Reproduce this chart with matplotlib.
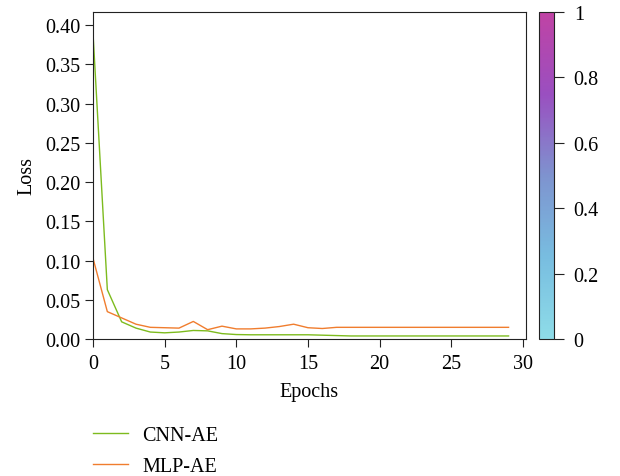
import matplotlib
matplotlib.use("Agg")
import matplotlib.pyplot as plt
import numpy as np
from matplotlib.colors import LinearSegmentedColormap
from matplotlib.cm import ScalarMappable
from matplotlib.colors import Normalize

plt.rcParams['font.family'] = ['Liberation Serif', 'DejaVu Serif']

# Training loss per epoch
epochs = list(range(30))
cnn_ae = [0.39, 0.063, 0.022, 0.014, 0.009, 0.008, 0.009, 0.011, 0.0105, 0.007,
          0.0058, 0.0055, 0.0055, 0.0055, 0.0055, 0.0055, 0.005, 0.0045, 0.004, 0.004,
          0.004, 0.004, 0.004, 0.004, 0.004, 0.004, 0.004, 0.004, 0.004, 0.004]
mlp_ae = [0.103, 0.035, 0.027, 0.019, 0.015, 0.0145, 0.014, 0.0225, 0.012, 0.0165,
          0.013, 0.013, 0.014, 0.016, 0.019, 0.0145, 0.0135, 0.015, 0.015, 0.015,
          0.015, 0.015, 0.015, 0.015, 0.015, 0.015, 0.015, 0.015, 0.015, 0.015]
series_names = ["CNN-AE", "MLP-AE"]
y_ticks = [0.0, 0.05, 0.10, 0.15, 0.20, 0.25, 0.30, 0.35, 0.40]
cbar_ticks = [0, 0.2, 0.4, 0.6, 0.8, 1]

fs = 14.5

fig = plt.figure(figsize=(6.2, 4.77), dpi=100)
ax = fig.add_axes([0.150, 0.287, 0.698, 0.686])
cax = fig.add_axes([0.869, 0.287, 0.025, 0.686])

ax.plot(epochs, cnn_ae, color="#7dbb1e", lw=1.0, label=series_names[0])
ax.plot(epochs, mlp_ae, color="#f07d2e", lw=1.0, label=series_names[1])

ax.set_xlim(0, 30.2)
ax.set_ylim(0, 0.417)
ax.set_xticks([0, 5, 10, 15, 20, 25, 30])
ax.set_yticks(y_ticks)
ax.set_yticklabels(["%.2f" % v for v in y_ticks])
ax.tick_params(direction="out", length=5.5, labelsize=fs, color="#222222")
ax.tick_params(axis="x", pad=5)
ax.set_xlabel("Epochs", fontsize=fs, labelpad=7)
ax.set_ylabel("Loss", fontsize=fs, labelpad=6)
for s in ax.spines.values():
    s.set_color("#222222")

cmap = LinearSegmentedColormap.from_list(
    "cb", [(0.0, "#8edce8"), (0.25, "#78bde0"), (0.5, "#7e93cf"),
           (0.75, "#9a4fc0"), (1.0, "#c043a4")])
cb = fig.colorbar(ScalarMappable(norm=Normalize(0, 1), cmap=cmap), cax=cax)
cb.set_ticks(cbar_ticks)
cb.set_ticklabels(["0", "0.2", "0.4", "0.6", "0.8", "1"])
cb.ax.tick_params(direction="out", length=7, pad=7, labelsize=fs, color="#222222")
cb.outline.set_edgecolor("#222222")

fig.legend(loc="upper left", bbox_to_anchor=(0.121, 0.142), frameon=False,
           fontsize=fs, handlelength=1.75, handletextpad=0.7, labelspacing=0.55)

fig.savefig("out.png", dpi=100)
